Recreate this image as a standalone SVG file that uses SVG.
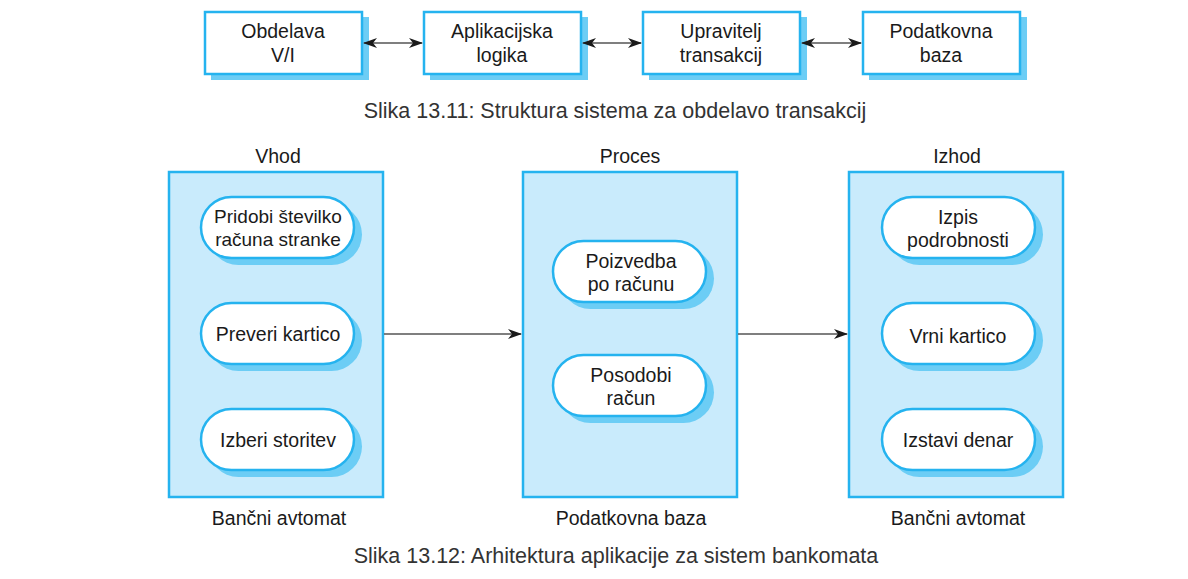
<svg xmlns="http://www.w3.org/2000/svg" width="1188" height="579" viewBox="0 0 1188 579">
<style>
text{font-family:"Liberation Sans",Arial,sans-serif;fill:#1a1a1a;text-anchor:middle}
.lbl{font-size:19.5px}
.sm{font-size:19px}
.cap{font-size:21.5px;fill:#333}
.box{fill:#fff;stroke:#25b3ef;stroke-width:2.5}
.shd{fill:#6ccdf5}
.cont{fill:#c9ebfc;stroke:#25b3ef;stroke-width:2.5}
.pill{fill:#fff;stroke:#25b3ef;stroke-width:2.5}
.con{stroke:#555;stroke-width:1.6;fill:none}
</style>
<defs>
<marker id="ah" viewBox="0 0 14 10" refX="13" refY="5" markerWidth="14" markerHeight="10" markerUnits="userSpaceOnUse" orient="auto-start-reverse">
<path d="M0,0 L14,5 L0,10 L4,5 Z" fill="#1a1a1a"/>
</marker>
</defs>
<rect width="1188" height="579" fill="#fff"/>
<g id="n-io"><rect class="shd" x="211" y="17" width="158" height="63"/><rect class="box" x="205" y="12" width="157" height="62"/><text class="lbl" x="283" y="38">Obdelava</text><text class="lbl" x="283" y="62">V/I</text></g>
<g id="n-app"><rect class="shd" x="430" y="17" width="158" height="63"/><rect class="box" x="424" y="12" width="157" height="62"/><text class="lbl" x="502" y="38">Aplikacijska</text><text class="lbl" x="502" y="62">logika</text></g>
<g id="n-tm"><rect class="shd" x="649" y="17" width="158" height="63"/><rect class="box" x="643" y="12" width="157" height="62"/><text class="lbl" x="721" y="38">Upravitelj</text><text class="lbl" x="721" y="62">transakcij</text></g>
<g id="n-db"><rect class="shd" x="869" y="17" width="158" height="63"/><rect class="box" x="863" y="12" width="157" height="62"/><text class="lbl" x="941" y="38">Podatkovna</text><text class="lbl" x="941" y="62">baza</text></g>
<text class="cap" x="615" y="118">Slika 13.11: Struktura sistema za obdelavo transakcij</text>

<g id="c-in"><text class="lbl" x="278" y="163">Vhod</text><rect class="cont" x="169" y="172" width="214" height="325"/><text class="lbl" x="279" y="525">Bančni avtomat</text></g>
<g id="c-proc"><text class="lbl" x="630" y="163">Proces</text><rect class="cont" x="523" y="172" width="214" height="325"/><text class="lbl" x="631" y="525">Podatkovna baza</text></g>
<g id="c-out"><text class="lbl" x="957" y="163">Izhod</text><rect class="cont" x="849" y="172" width="214" height="325"/><text class="lbl" x="958" y="525">Bančni avtomat</text></g>

<g id="p1"><rect class="shd" x="208" y="204" width="154" height="61" rx="30.5"/><rect class="pill" x="201" y="197" width="153" height="61" rx="30.5"/><text class="sm" x="278" y="223">Pridobi številko</text><text class="sm" x="278" y="246">računa stranke</text></g>
<g id="p2"><rect class="shd" x="208" y="310" width="154" height="61" rx="30.5"/><rect class="pill" x="201" y="303" width="153" height="61" rx="30.5"/><text class="lbl" x="278" y="341">Preveri kartico</text></g>
<g id="p3"><rect class="shd" x="208" y="416" width="154" height="61" rx="30.5"/><rect class="pill" x="201" y="409" width="153" height="61" rx="30.5"/><text class="lbl" x="278" y="447">Izberi storitev</text></g>
<g id="p4"><rect class="shd" x="560" y="248" width="154" height="61" rx="30.5"/><rect class="pill" x="553" y="241" width="153" height="61" rx="30.5"/><text class="lbl" x="631" y="268">Poizvedba</text><text class="lbl" x="631" y="291">po računu</text></g>
<g id="p5"><rect class="shd" x="560" y="362" width="154" height="61" rx="30.5"/><rect class="pill" x="553" y="355" width="153" height="61" rx="30.5"/><text class="lbl" x="631" y="382">Posodobi</text><text class="lbl" x="631" y="405">račun</text></g>
<g id="p6"><rect class="shd" x="889" y="204" width="154" height="61" rx="30.5"/><rect class="pill" x="882" y="197" width="153" height="61" rx="30.5"/><text class="lbl" x="958" y="224">Izpis</text><text class="lbl" x="958" y="247">podrobnosti</text></g>
<g id="p7"><rect class="shd" x="889" y="310" width="154" height="61" rx="30.5"/><rect class="pill" x="882" y="303" width="153" height="61" rx="30.5"/><text class="lbl" x="958" y="343">Vrni kartico</text></g>
<g id="p8"><rect class="shd" x="889" y="416" width="154" height="61" rx="30.5"/><rect class="pill" x="882" y="409" width="153" height="61" rx="30.5"/><text class="lbl" x="958" y="447">Izstavi denar</text></g>

<text class="cap" x="616" y="563">Slika 13.12: Arhitektura aplikacije za sistem bankomata</text>

<g id="connectors">
<line class="con" x1="364" y1="43" x2="422" y2="43" marker-start="url(#ah)" marker-end="url(#ah)"/>
<line class="con" x1="583" y1="43" x2="641" y2="43" marker-start="url(#ah)" marker-end="url(#ah)"/>
<line class="con" x1="802" y1="43" x2="861" y2="43" marker-start="url(#ah)" marker-end="url(#ah)"/>
<line class="con" x1="384" y1="334" x2="521" y2="334" marker-end="url(#ah)"/>
<line class="con" x1="738" y1="334" x2="847" y2="334" marker-end="url(#ah)"/>
</g>
</svg>
